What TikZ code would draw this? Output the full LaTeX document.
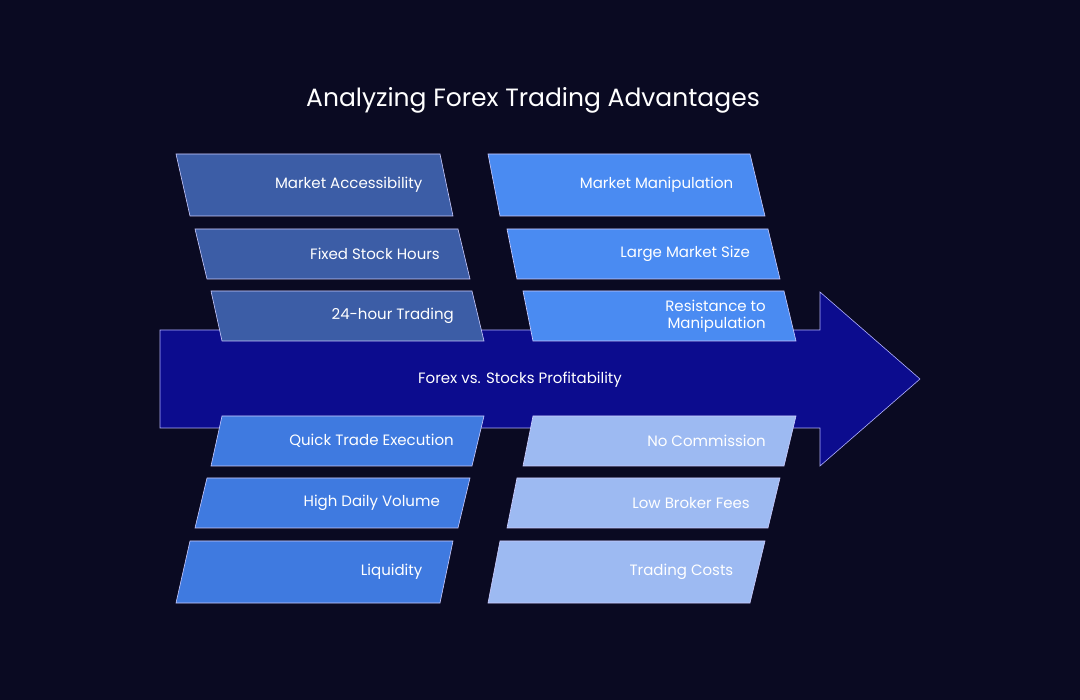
\documentclass[tikz,border=0pt]{standalone}
\usepackage{fontspec}
\setmainfont{Poppins}
\begin{document}
\begin{tikzpicture}[x=1pt,y=-1pt,
  lbl/.style={text=white,font=\fontsize{15}{17}\selectfont,anchor=east,align=right,inner sep=0pt},
  pgb/.style={draw=white!80!blue,line width=0.6pt}]
\definecolor{bg}{HTML}{0A0A22}
\definecolor{lt}{HTML}{3C5DA6}
\definecolor{rt}{HTML}{4A8BF2}
\definecolor{lb}{HTML}{3F7AE0}
\definecolor{rb}{HTML}{9DBAF2}
\definecolor{arr}{HTML}{0C0C8E}
\fill[bg] (0,0) rectangle (1080,700);
\node[text=white,font=\fontsize{25}{28}\selectfont] (title) at (533,100) {Analyzing Forex Trading Advantages};
\draw[fill=arr,draw=white!70!blue,line width=0.6pt] (160,330) -- (820,330) -- (820,292) -- (920,379) -- (820,466) -- (820,428) -- (160,428) -- cycle;
\node[text=white,font=\fontsize{15}{17}\selectfont] (main) at (520,380) {Forex vs. Stocks Profitability};
\newcommand\pg[9]{%
  \fill[#7,pgb] (#1,#5) -- (#2,#5) -- (#4,#6) -- (#3,#6) -- cycle;
  \node[lbl] (#9) at ({(#2+#4)/2-24},{(#5+#6)/2}) {#8};}
\pg{176}{440}{190}{453}{154}{216}{lt}{Market Accessibility}{a1}
\pg{195}{458}{207}{470}{229}{279}{lt}{Fixed Stock Hours}{a2}
\pg{211}{472}{222}{484}{291}{341}{lt}{24-hour Trading}{a3}
\pg{488}{750}{500}{765}{154}{216}{rt}{Market Manipulation}{b1}
\pg{507}{768}{517}{780}{229}{279}{rt}{Large Market Size}{b2}
\pg{523}{784}{533}{796}{291}{341}{rt}{Resistance to\\Manipulation}{b3}
\pg{222}{484}{211}{472}{416}{466}{lb}{Quick Trade Execution}{c1}
\pg{207}{470}{195}{458}{478}{528}{lb}{High Daily Volume}{c2}
\pg{190}{453}{176}{440}{541}{603}{lb}{Liquidity}{c3}
\pg{533}{796}{523}{784}{416}{466}{rb}{No Commission}{d1}
\pg{517}{780}{507}{768}{478}{528}{rb}{Low Broker Fees}{d2}
\pg{500}{765}{488}{750}{541}{603}{rb}{Trading Costs}{d3}
\end{tikzpicture}
\end{document}
